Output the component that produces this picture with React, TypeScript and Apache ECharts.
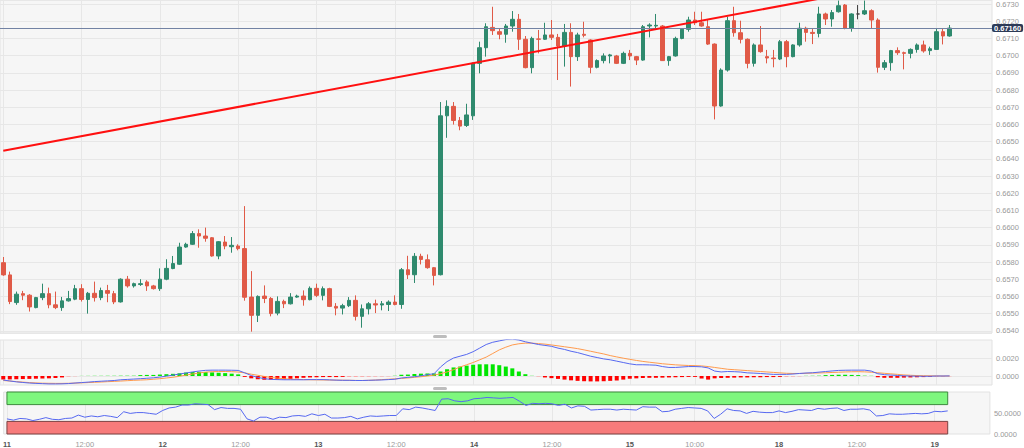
import React, { useEffect, useRef } from "react";
import * as echarts from "echarts";

// ---- time categories (hourly candles) ----
const sessionDays = ["11", "12", "13", "14", "15", "17", "18", "19"];
const sessionStartHour = [0, 0, 0, 0, 0, 22, 0, 0];
const sessionLength = [24, 24, 24, 24, 21, 2, 24, 3];
const emptySlotsRight = 6;

// ---- tick labels on the time axis ----
const tickIndex = [0, 12, 24, 36, 48, 60, 72, 84, 96, 106, 119, 131, 143];
const tickLabel = ["11", "12:00", "12", "12:00", "13", "12:00", "14", "12:00", "15", "10:00", "18", "12:00", "19"];

// ---- OHLC values ----
const openPrices = [
  0.65796, 0.65725, 0.65564, 0.65616, 0.65607, 0.65535, 0.65593, 0.65616, 0.65551, 0.65535,
  0.65574, 0.65584, 0.65645, 0.65582, 0.65618, 0.65593, 0.65634, 0.65616, 0.65568, 0.657,
  0.65661, 0.65669, 0.65684, 0.65661, 0.65645, 0.657, 0.65762, 0.65787, 0.65887, 0.65903,
  0.65965, 0.65951, 0.65941, 0.65835, 0.65916, 0.65889, 0.65893, 0.65878, 0.65596, 0.6549,
  0.65602, 0.65588, 0.65503, 0.65571, 0.65557, 0.65596, 0.65602, 0.65581, 0.65647, 0.65606,
  0.65645, 0.65542, 0.65532, 0.65546, 0.65577, 0.65484, 0.65528, 0.65557, 0.6555, 0.65553,
  0.65567, 0.65553, 0.65755, 0.65726, 0.65833, 0.65813, 0.65767, 0.65726, 0.6665, 0.66705,
  0.66623, 0.66594, 0.6665, 0.66955, 0.67046, 0.67164, 0.67139, 0.67124, 0.67172, 0.67211,
  0.67095, 0.6693, 0.67097, 0.67095, 0.6712, 0.67106, 0.67056, 0.67135, 0.66994, 0.67124,
  0.67091, 0.66932, 0.66971, 0.66998, 0.66998, 0.66955, 0.67013, 0.66994, 0.66974, 0.67172,
  0.67172, 0.67172, 0.66971, 0.66998, 0.671, 0.67153, 0.67207, 0.67191, 0.67168, 0.67067,
  0.66707, 0.66916, 0.67203, 0.67133, 0.67095, 0.66955, 0.67062, 0.66994, 0.66986, 0.6698,
  0.67081, 0.66994, 0.67062, 0.67159, 0.67135, 0.67129, 0.67242, 0.67213, 0.67255, 0.67294,
  0.67159, 0.67242, 0.67242, 0.67261, 0.67207, 0.66932, 0.66959, 0.67029, 0.67017, 0.67013,
  0.67036, 0.67062, 0.67029, 0.67036, 0.67139, 0.67114,
];
const closePrices = [
  0.65725, 0.6557, 0.65613, 0.65607, 0.65539, 0.65593, 0.65616, 0.65551, 0.65535, 0.65574,
  0.65587, 0.65645, 0.65582, 0.65618, 0.65593, 0.65634, 0.65618, 0.65568, 0.657, 0.65661,
  0.65674, 0.65674, 0.65661, 0.65645, 0.657, 0.65763, 0.65791, 0.65887, 0.65903, 0.65965,
  0.65951, 0.65938, 0.65835, 0.65918, 0.65893, 0.65897, 0.65878, 0.65595, 0.6549, 0.656,
  0.65588, 0.655, 0.65571, 0.65557, 0.65596, 0.65602, 0.65581, 0.65647, 0.65606, 0.65645,
  0.65542, 0.65532, 0.65546, 0.65577, 0.65484, 0.65528, 0.65557, 0.6555, 0.65557, 0.65567,
  0.65553, 0.65755, 0.65726, 0.65833, 0.65815, 0.65767, 0.65722, 0.6665, 0.66705, 0.66623,
  0.6659, 0.66655, 0.66955, 0.67046, 0.67168, 0.67145, 0.67124, 0.67172, 0.67211, 0.67095,
  0.6693, 0.671, 0.67095, 0.6712, 0.67106, 0.67056, 0.67135, 0.66994, 0.6712, 0.67118,
  0.66932, 0.66971, 0.66998, 0.67004, 0.66955, 0.67013, 0.66998, 0.66974, 0.67168, 0.67178,
  0.67176, 0.66971, 0.66994, 0.671, 0.67153, 0.67207, 0.67191, 0.67172, 0.67067, 0.66707,
  0.66916, 0.67203, 0.67133, 0.67095, 0.66955, 0.67062, 0.67023, 0.66986, 0.66982, 0.67081,
  0.66994, 0.67062, 0.67159, 0.67135, 0.67129, 0.67242, 0.67213, 0.6725, 0.6729, 0.67159,
  0.67242, 0.67242, 0.67261, 0.67207, 0.66932, 0.66959, 0.67029, 0.67017, 0.67013, 0.67036,
  0.67062, 0.67027, 0.6704, 0.67139, 0.67114, 0.6716,
];
const lowPrices = [
  0.6572, 0.65555, 0.65551, 0.65578, 0.65512, 0.65531, 0.65578, 0.65531, 0.65526, 0.65516,
  0.6557, 0.65578, 0.6557, 0.655, 0.6557, 0.65578, 0.65566, 0.65555, 0.65564, 0.65651,
  0.65651, 0.65661, 0.65632, 0.6564, 0.65632, 0.65694, 0.65758, 0.65783, 0.65883, 0.65899,
  0.65883, 0.65918, 0.65831, 0.65816, 0.65874, 0.65854, 0.65868, 0.65575, 0.65395, 0.65451,
  0.65561, 0.65484, 0.6549, 0.65532, 0.65553, 0.65592, 0.65546, 0.65577, 0.65596, 0.65577,
  0.65538, 0.6549, 0.65495, 0.65538, 0.6546, 0.65418, 0.65495, 0.65503, 0.65519, 0.65515,
  0.65548, 0.65528, 0.65701, 0.65678, 0.65786, 0.65761, 0.65664, 0.65722, 0.66522, 0.66599,
  0.66566, 0.66585, 0.66626, 0.66897, 0.66994, 0.6712, 0.67095, 0.67075, 0.67139, 0.67033,
  0.66926, 0.66897, 0.67013, 0.67091, 0.67091, 0.66858, 0.66936, 0.6682, 0.66969, 0.67106,
  0.66897, 0.66926, 0.66955, 0.66955, 0.66951, 0.66951, 0.66974, 0.66945, 0.6697, 0.67106,
  0.67159, 0.66969, 0.66941, 0.66994, 0.67095, 0.67139, 0.67178, 0.67168, 0.67062, 0.66629,
  0.66703, 0.66907, 0.6711, 0.67071, 0.66926, 0.66936, 0.67017, 0.66955, 0.66932, 0.66974,
  0.66932, 0.6699, 0.67052, 0.67081, 0.67067, 0.67106, 0.67178, 0.67168, 0.6725, 0.67153,
  0.67139, 0.67211, 0.67236, 0.67159, 0.66901, 0.66916, 0.66912, 0.67004, 0.6692, 0.66984,
  0.67017, 0.67017, 0.67004, 0.67033, 0.67065, 0.6711,
];
const highPrices = [
  0.65829, 0.65744, 0.65628, 0.65632, 0.65613, 0.65597, 0.65674, 0.65651, 0.65628, 0.65597,
  0.65632, 0.65667, 0.65671, 0.65626, 0.65686, 0.65651, 0.65667, 0.65632, 0.65705, 0.65719,
  0.6568, 0.657, 0.65694, 0.65667, 0.65763, 0.65816, 0.65835, 0.65912, 0.65912, 0.6598,
  0.6599, 0.66, 0.65945, 0.65922, 0.65951, 0.65945, 0.65903, 0.66125, 0.65747, 0.65606,
  0.65664, 0.65596, 0.656, 0.65581, 0.65619, 0.6561, 0.65635, 0.65658, 0.65674, 0.65658,
  0.6565, 0.65561, 0.65557, 0.65596, 0.65606, 0.65553, 0.65567, 0.65581, 0.65573, 0.65577,
  0.65606, 0.65765, 0.65836, 0.65852, 0.65848, 0.65844, 0.65771, 0.6673, 0.6674, 0.6673,
  0.66643, 0.6672, 0.6696, 0.67081, 0.67188, 0.67284, 0.67159, 0.67184, 0.67259, 0.67242,
  0.67114, 0.6711, 0.67149, 0.67191, 0.67207, 0.67126, 0.67184, 0.67188, 0.67133, 0.67197,
  0.67095, 0.66978, 0.67013, 0.6701, 0.67004, 0.67023, 0.67033, 0.66998, 0.67178, 0.67188,
  0.67242, 0.67178, 0.66998, 0.6711, 0.67159, 0.67226, 0.67255, 0.67255, 0.67211, 0.67071,
  0.66926, 0.67226, 0.67284, 0.67203, 0.671, 0.67071, 0.67172, 0.67033, 0.67033, 0.67091,
  0.67091, 0.67066, 0.67191, 0.67168, 0.67159, 0.67284, 0.6725, 0.67265, 0.6732, 0.673,
  0.67246, 0.67294, 0.6732, 0.67269, 0.67217, 0.66974, 0.67033, 0.67048, 0.67023, 0.67042,
  0.67071, 0.67087, 0.67052, 0.67159, 0.67159, 0.67178,
];
const lastPrice = 0.6716;

// ---- trend line (two read end points) ----
const trendIndex = [0, 145];
const trendPrice = [0.66447, 0.67472];

// ---- MACD panel (units of 0.0001) ----
const macdLine = [
  -4.5, -5.5, -6.5, -7.2, -7.8, -8.2, -8.5, -8.8, -8.8, -8.7,
  -8.4, -7.8, -7.3, -6.8, -6.2, -5.8, -5.4, -5, -4.2, -3.8,
  -3.4, -3, -2.5, -2, -1.2, -0.2, 1, 2.2, 3.3, 4.5,
  5.5, 6.3, 6.5, 6.5, 6.5, 6.4, 6.2, 3.5, 0.5, -1.5,
  -3, -3.8, -4, -4.2, -4.2, -4.2, -4.2, -4, -4, -4,
  -4.3, -4.6, -4.8, -4.8, -5, -5, -4.8, -4.6, -4.4, -4,
  -3.6, -2.2, -1.5, -0.8, 0.2, 1.5, 2.5, 10, 16, 20,
  22, 24, 27, 31, 35, 37.5, 39, 40.5, 41, 40,
  38, 36.5, 35, 34, 33, 31, 29.5, 27.5, 26, 24,
  22, 20.5, 19, 18, 16.5, 15, 13.5, 12.5, 12.5, 12.3,
  12, 10.5, 9.5, 9.5, 10, 10.5, 10.5, 10.2, 9, 5.5,
  4.5, 5, 4.8, 4.4, 3.5, 3.2, 2.8, 2.3, 1.8, 1.8,
  1.8, 2.2, 2.8, 3.3, 3.6, 4.3, 5, 5.6, 6.2, 6.4,
  6.5, 6.5, 6.5, 5.5, 2.5, 1.5, 1, 0.6, 0.2, 0,
  -0.2, -0.3, -0.3, 0, 0, 0.1,
];
const signalLine = [
  -5, -5.6, -6.2, -6.8, -7.3, -7.7, -8, -8.1, -8.2, -8.2,
  -8.1, -7.9, -7.6, -7.3, -7, -6.7, -6.3, -6, -5.6, -5.2,
  -4.8, -4.5, -4.2, -3.6, -3, -2.2, -1.4, -0.3, 1, 2.2,
  3.4, 4.3, 4.8, 5, 5, 4.8, 4.4, 3.5, 2, 0.8,
  -0.5, -1.6, -2.4, -3, -3.5, -3.8, -4, -4.2, -4.3, -4.4,
  -4.5, -4.6, -4.7, -4.8, -4.9, -5, -4.8, -4.5, -4, -3.6,
  -3.2, -2.7, -2.2, -1.5, -0.8, 0, 1, 2.5, 4.5, 7,
  10, 12.5, 15, 18, 21, 25, 29, 32, 34.5, 35.8,
  36.5, 36.5, 36, 35.4, 34.5, 33.5, 32.5, 31.5, 30.4, 29,
  27.5, 26, 24.5, 22.7, 21.2, 19.8, 18.5, 17.3, 16.2, 15.3,
  14.5, 13.6, 13, 12.4, 12, 11.7, 11.5, 11.2, 10.5, 9.5,
  8.5, 7.5, 7, 6.5, 6, 5.5, 5, 4.5, 4, 3.5,
  3, 2.8, 2.8, 3, 3.2, 3.4, 3.6, 3.9, 4.2, 4.5,
  4.7, 4.8, 4.6, 4.2, 3.6, 3, 2.4, 1.8, 1.2, 0.8,
  0.5, 0.3, 0.2, 0.1, 0, 0,
];
const macdHistogram = [
  -3.8, -3.8, -3.6, -3.4, -3.2, -3, -2.8, -2.6, -2.2, -1.6,
  -0.6, -0.3, 0.3, 0.4, 0.5, 0.5, 0.6, 0.6, 0.8, 0.8,
  0.8, 1, 1.2, 1.2, 1.6, 2, 2.4, 3, 3.8, 4.4,
  4.6, 4.4, 4, 3.6, 3.2, 2.6, 1.8, -1, -2.6, -3.6,
  -4.2, -4.2, -4, -3.6, -3.2, -2.6, -2, -1.6, -1.4, -1.2,
  -1.2, -1.2, -1, -0.9, -0.9, -0.8, -0.7, -0.6, -0.5, -0.4,
  0.6, 1.4, 1.6, 2.2, 2.6, 2.8, 2.8, 5, 7.5, 9.5,
  10.5, 11.5, 12.5, 13, 13, 13, 12, 10.5, 8.5, 5,
  2, 0.5, -0.6, -1.6, -2.4, -3.2, -4, -4.8, -5.4, -5.8,
  -6, -6, -5.8, -5.4, -5, -4, -3, -2.6, -2.2, -2,
  -2, -1.8, -1.6, -1.4, -1.2, -1, -1, -2.8, -4, -2.6,
  -2.2, -2, -1.8, -1.6, -1.6, -1.4, -1.4, -1.2, -1.2, -1,
  -0.8, -0.6, -0.4, 0.4, 0.6, 0.8, 1, 1.2, 1.4, 1.4,
  1.2, 1, 0.8, 0.5, -1.4, -2, -2, -2, -1.8, -1.6,
  -1.4, -1.2, -1, -0.8, -0.6, -0.4,
];
const macdTickLabels: Record<number, string> = { 0: "0.0000", 20: "0.0020" };

// ---- RSI panel ----
const rsiValues = [
  36, 33, 37, 36, 32, 35, 39, 35, 34, 37,
  38, 45, 40, 43, 41, 44, 42, 39, 53, 49,
  51, 51, 49, 47, 56, 62, 64, 69, 69, 72,
  71, 70, 58, 63, 61, 61, 59, 36, 31, 40,
  40, 35, 40, 39, 43, 44, 42, 48, 44, 47,
  38, 38, 39, 42, 36, 40, 43, 42, 43, 44,
  44, 60, 58, 64, 62, 59, 56, 83, 84, 79,
  77, 79, 84, 85, 87, 86, 85, 86, 87, 78,
  68, 73, 72, 73, 72, 68, 71, 62, 67, 66,
  57, 58, 59, 59, 57, 59, 58, 57, 65, 64,
  64, 53, 54, 59, 61, 63, 62, 61, 55, 37,
  47, 60, 56, 55, 49, 54, 52, 51, 51, 55,
  51, 54, 58, 57, 56, 61, 59, 61, 62, 56,
  59, 59, 60, 57, 43, 44, 48, 47, 47, 48,
  49, 48, 49, 54, 53, 55,
];
const rsiUpper = 70;
const rsiLower = 30;
const rsiTickLabels: Record<number, string> = { 0: "0.0000", 50: "50.0000" };

// ---- colours ----
const UP = "#2f8a6e";
const DOWN = "#e05a47";
const GRID_BG = "#f6f6f6";
const GRID_LINE = "#e7e7e7";
const BORDER = "#e2e2e2";
const AXIS_FONT = 7.5;

function buildCategories(): string[] {
  const cats: string[] = [];
  sessionDays.forEach((d, k) => {
    for (let h = 0; h < sessionLength[k]; h++) {
      const hour = sessionStartHour[k] + h;
      cats.push(`${d} ${String(hour).padStart(2, "0")}:00`);
    }
  });
  for (let e = 0; e < emptySlotsRight; e++) cats.push(`pad${e}`);
  return cats;
}

export default function App() {
  const ref = useRef<HTMLDivElement>(null);

  useEffect(() => {
    document.body.style.margin = "0";
    const el = ref.current;
    if (!el) return;
    const chart = echarts.init(el, null, { renderer: "svg" });

    const categories = buildCategories();
    const tickSet = new Set(tickIndex);
    const labelOf = (idx: number) => tickLabel[tickIndex.indexOf(idx)];
    const candleData = openPrices.map((o, i) => [o, closePrices[i], lowPrices[i], highPrices[i]]);
    const trendData = categories.map((_, i) => {
      const k = trendIndex.indexOf(i);
      return k >= 0 ? trendPrice[k] : null;
    });
    const lastIdx = openPrices.length - 1;

    const gridLeft = 0;
    const gridWidth = 992;
    const grids = [
      { left: gridLeft, top: 0, width: gridWidth, height: 333 },
      { left: gridLeft, top: 340, width: gridWidth, height: 45 },
      { left: gridLeft, top: 392, width: gridWidth, height: 42 },
    ].map((g) => ({ ...g, show: true, backgroundColor: GRID_BG, borderColor: BORDER, borderWidth: 1 }));

    const xAxisFor = (gi: number) => ({
      type: "category" as const,
      gridIndex: gi,
      data: categories,
      boundaryGap: true,
      axisLine: { show: false },
      axisTick: { show: false, alignWithLabel: true },
      splitLine: {
        show: true,
        alignWithLabel: true,
        interval: (idx: number) => tickSet.has(idx),
        lineStyle: { color: GRID_LINE, width: 1 },
      },
      axisLabel:
        gi === 2
          ? {
              show: true,
              interval: (idx: number) => tickSet.has(idx),
              margin: 6,
              formatter: (_v: string, idx: number) => {
                const l = labelOf(idx);
                if (!l) return "";
                return l.includes(":") ? `{t|${l}}` : `{d|${l}}`;
              },
              rich: {
                t: { color: "#9a9a9a", fontSize: AXIS_FONT, fontFamily: "Liberation Sans" },
                d: { color: "#555", fontSize: AXIS_FONT, fontWeight: "bold", fontFamily: "Liberation Sans" },
              },
            }
          : { show: false },
    });

    const option: any = {
      animation: false,
      backgroundColor: "#ffffff",
      textStyle: { fontFamily: "Liberation Sans" },
      grid: grids,
      xAxis: [xAxisFor(0), xAxisFor(1), xAxisFor(2)],
      yAxis: [
        {
          type: "value",
          gridIndex: 0,
          position: "right",
          min: 0.653872,
          max: 0.673233,
          splitNumber: 19,
          minInterval: 0.001,
          maxInterval: 0.001,
          scale: true,
          axisLine: { show: false },
          axisTick: { show: false },
          axisLabel: {
            showMinLabel: false,
            showMaxLabel: false,
            margin: 4,
            color: "#999",
            fontSize: AXIS_FONT,
            lineHeight: 6,
            formatter: (v: number) => v.toFixed(4),
          },
          splitLine: { show: true, lineStyle: { color: GRID_LINE } },
        },
        {
          type: "value",
          gridIndex: 1,
          position: "right",
          min: -10,
          max: 40,
          interval: 10,
          axisLine: { show: false },
          axisTick: { show: false },
          axisLabel: {
            margin: 4,
            color: "#999",
            fontSize: AXIS_FONT,
            formatter: (v: number) => macdTickLabels[v] ?? "",
          },
          splitLine: {
            show: true,
            lineStyle: {
              color: ["rgba(0,0,0,0)", GRID_LINE, "rgba(0,0,0,0)", GRID_LINE, "rgba(0,0,0,0)", "rgba(0,0,0,0)"],
            },
          },
        },
        {
          type: "value",
          gridIndex: 2,
          position: "right",
          min: 0,
          max: 100,
          interval: 50,
          axisLine: { show: false },
          axisTick: { show: false },
          axisLabel: {
            margin: 4,
            color: "#999",
            fontSize: AXIS_FONT,
            formatter: (v: number) => rsiTickLabels[v] ?? "",
          },
          splitLine: { show: false },
        },
      ],
      series: [
        {
          type: "candlestick",
          xAxisIndex: 0,
          yAxisIndex: 0,
          data: candleData,
          barWidth: 4,
          itemStyle: {
            color: UP,
            color0: DOWN,
            borderColor: UP,
            borderColor0: DOWN,
            borderColorDoji: "#444",
            borderWidth: 1,
          },
          markLine: {
            silent: true,
            symbol: "none",
            precision: 5,
            data: [{ yAxis: lastPrice }],
            lineStyle: { color: "#7282a3", width: 1, type: "solid" },
            label: {
              show: true,
              position: "end",
              distance: 0,
              formatter: () => lastPrice.toFixed(5),
              color: "#fff",
              fontSize: AXIS_FONT,
              lineHeight: 7,
              fontWeight: "bold",
              backgroundColor: "#2c3a57",
              borderRadius: 2,
              padding: [1, 2, 0, 2],
            },
          },
        },
        {
          type: "line",
          xAxisIndex: 0,
          yAxisIndex: 0,
          data: trendData,
          connectNulls: true,
          symbol: "none",
          clip: true,
          lineStyle: { color: "#ff1010", width: 2 },
          z: 5,
        },
        {
          type: "bar",
          xAxisIndex: 1,
          yAxisIndex: 1,
          data: macdHistogram,
          barWidth: 4,
          itemStyle: {
            color: (p: any) => {
              const v = p.value as number;
              if (v >= 0) return Math.abs(v) < 1 ? "#8ef08e" : "#00e600";
              return Math.abs(v) < 1 ? "#ff9a9a" : "#ff0000";
            },
          },
        },
        {
          type: "line",
          xAxisIndex: 1,
          yAxisIndex: 1,
          data: signalLine,
          symbol: "none",
          lineStyle: { color: "#ff9a4d", width: 1 },
        },
        {
          type: "line",
          xAxisIndex: 1,
          yAxisIndex: 1,
          data: macdLine,
          symbol: "none",
          lineStyle: { color: "#5668f0", width: 1 },
        },
        {
          type: "line",
          xAxisIndex: 2,
          yAxisIndex: 2,
          data: rsiValues,
          symbol: "none",
          lineStyle: { color: "#5668f0", width: 1 },
          z: 5,
          markArea: {
            silent: true,
            data: [
              [
                { xAxis: categories[0], yAxis: rsiUpper, itemStyle: { color: "#7ef77e", borderColor: "#3d8a3d", borderWidth: 1 } },
                { xAxis: categories[lastIdx], yAxis: 100 },
              ],
              [
                { xAxis: categories[0], yAxis: 0, itemStyle: { color: "#f77b7b", borderColor: "#7a4040", borderWidth: 1 } },
                { xAxis: categories[lastIdx], yAxis: rsiLower },
              ],
            ],
          },
        },
      ],
      graphic: [
        { type: "rect", shape: { x: 433, y: 335, width: 14, height: 3, r: 1.5 }, style: { fill: "#bdbdbd" }, silent: true },
        { type: "rect", shape: { x: 433, y: 387, width: 14, height: 3, r: 1.5 }, style: { fill: "#bdbdbd" }, silent: true },
      ],
    };

    chart.setOption(option);
    return () => chart.dispose();
  }, []);

  return <div ref={ref} style={{ width: 1024, height: 448 }} />;
}
